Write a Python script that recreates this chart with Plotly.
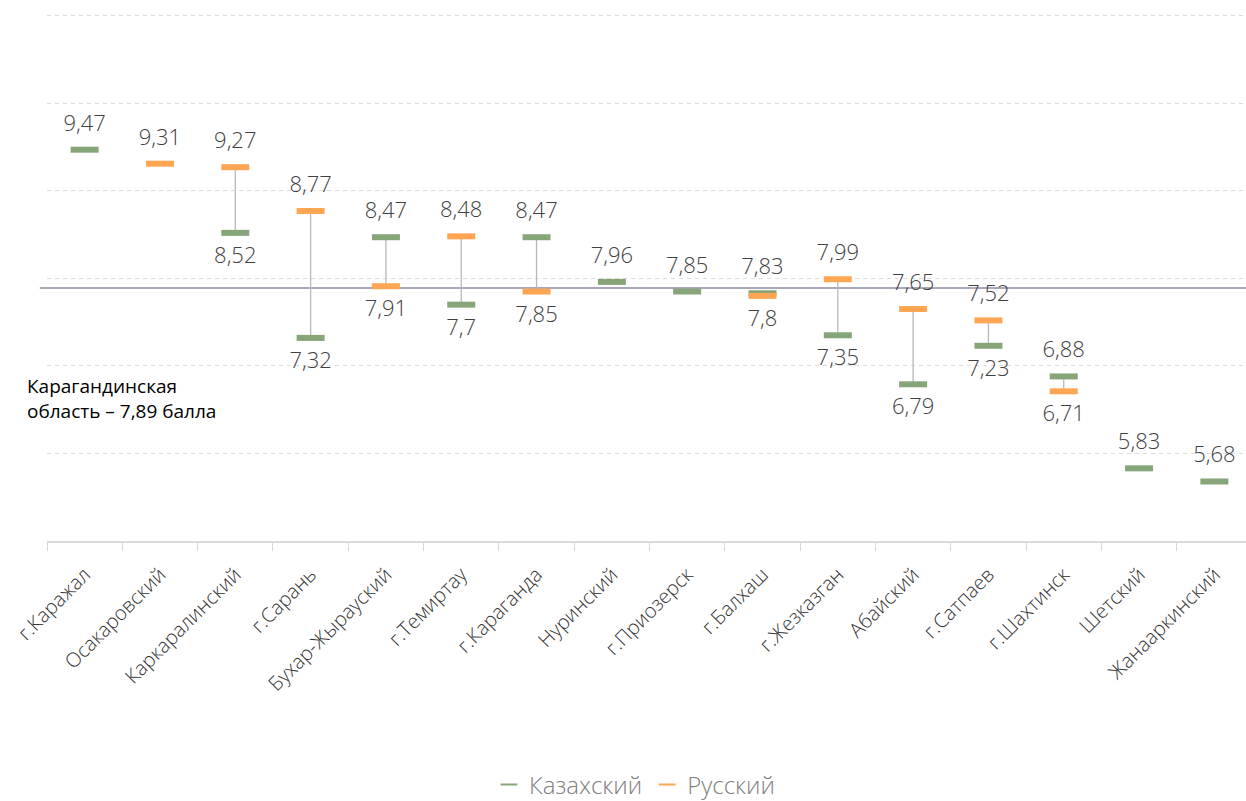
import plotly.graph_objects as go

categories = ["г.Каражал", "Осакаровский", "Каркаралинский", "г.Сарань", "Бухар-Жырауский",
              "г.Темиртау", "г.Караганда", "Нуринский", "г.Приозерск", "г.Балхаш",
              "г.Жезказган", "Абайский", "г.Сатпаев", "г.Шахтинск", "Шетский", "Жанааркинский"]
kazakh = [9.47, None, 8.52, 7.32, 8.47, 7.7, 8.47, 7.96, 7.85, 7.83, 7.35, 6.79, 7.23, 6.88, 5.83, 5.68]
russian = [None, 9.31, 9.27, 8.77, 7.91, 8.48, 7.85, None, None, 7.8, 7.99, 7.65, 7.52, 6.71, None, None]
region_avg = 7.89
region_label = "Карагандинская<br>область – 7,89 балла"

GREEN = "#86a579"
ORANGE = "#ffa654"

def fmt(v):
    s = ("%.2f" % v).rstrip("0").rstrip(".")
    return s.replace(".", ",")

def positions(vals, others):
    pos = []
    for v, o in zip(vals, others):
        if v is None:
            pos.append("top center")
        elif o is not None and v < o:
            pos.append("bottom center")
        else:
            pos.append("top center")
    return pos

fig = go.Figure()

# connecting lines
cx, cy = [], []
for c, k, r in zip(categories, kazakh, russian):
    if k is not None and r is not None:
        cx += [c, c, None]
        cy += [k, r, None]
fig.add_trace(go.Scatter(x=cx, y=cy, mode="lines", line=dict(color="#b4b8c0", width=1.3),
                         showlegend=False, hoverinfo="skip"))

label_font = dict(family="Open Sans", size=22, color="#404040", weight=300)

for name, vals, others, col in [("Казахский", kazakh, russian, GREEN),
                                 ("Русский", russian, kazakh, ORANGE)]:
    xs = [c for c, v in zip(categories, vals) if v is not None]
    ys = [v for v in vals if v is not None]
    ps = [p for p, v in zip(positions(vals, others), vals) if v is not None]
    fig.add_trace(go.Scatter(
        x=xs, y=ys, mode="markers+text", name=name,
        marker=dict(symbol="line-ew", size=20, color=col, line=dict(color=col, width=6)),
        text=[fmt(v) for v in ys], textposition=ps, textfont=label_font,
        hoverinfo="skip"))

fig.add_shape(type="line", xref="paper", yref="y", x0=-0.006, x1=1, y0=region_avg, y1=region_avg,
              line=dict(color="#a9a7b8", width=2), layer="below")

fig.add_annotation(xref="paper", yref="y", x=-0.018, y=6.63, xanchor="left", yanchor="middle",
                   text=region_label, showarrow=False, align="left",
                   font=dict(family="Open Sans", size=19, color="#000000"))

fig.update_layout(
    width=1246, height=801,
    margin=dict(l=47, r=0, t=14, b=260, autoexpand=False),
    paper_bgcolor="white", plot_bgcolor="white",
    showlegend=True,
    legend=dict(orientation="h", x=0.49, xanchor="center", yref="container", y=0.02,
                yanchor="middle",
                font=dict(family="Open Sans", size=24, color="#808080", weight=300),
                itemsizing="constant"),
    xaxis=dict(type="category", categoryorder="array", categoryarray=categories,
               range=[-0.5, 15.42], tickangle=-45, tickson="boundaries",
               ticks="outside", ticklen=8, tickcolor="#d9d9d9", ticklabelstandoff=12,
               showline=True, linecolor="#d9d9d9", linewidth=2, showgrid=False,
               tickfont=dict(family="Open Sans", size=20, color="#333333", weight=300)),
    yaxis=dict(range=[5, 11.02], tickvals=[5, 6, 7, 8, 9, 10, 11], showticklabels=False,
               showgrid=True, gridcolor="#dcdcdc", griddash="4px,4px", gridwidth=1,
               zeroline=False, showline=False),
)

fig.write_html("out.html", config={"displayModeBar": False},
               post_script="document.body.style.margin='0';document.body.style.overflow='hidden';")
